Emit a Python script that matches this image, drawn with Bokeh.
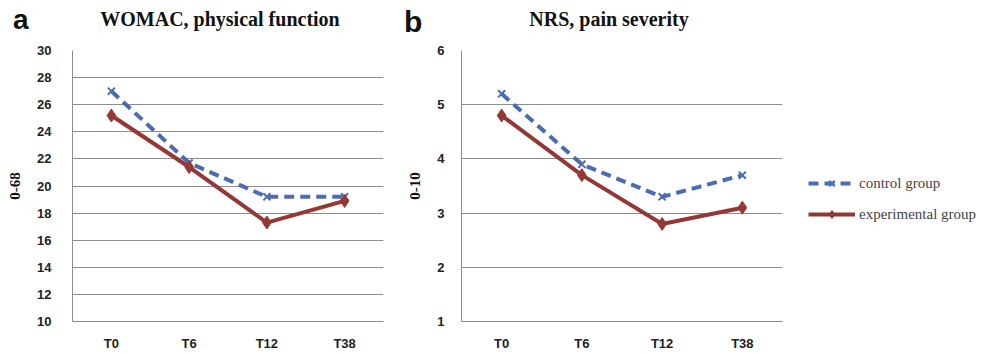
from bokeh.plotting import figure
from bokeh.models import Range1d, FactorRange, Legend, LegendItem, FixedTicker, Div
from bokeh.layouts import row, column
from bokeh.embed import file_html
from bokeh.resources import INLINE

timepoints = ["T0", "T6", "T12", "T38"]
womac_control = [27.0, 21.7, 19.2, 19.2]
womac_experimental = [25.2, 21.4, 17.3, 18.9]
nrs_control = [5.2, 3.9, 3.3, 3.7]
nrs_experimental = [4.8, 3.7, 2.8, 3.1]
womac_ticks = [10, 12, 14, 16, 18, 20, 22, 24, 26, 28, 30]
nrs_ticks = [1, 2, 3, 4, 5, 6]

BLUE = "#4a6cb3"
RED = "#953735"
GRID = "#8c8c8c"
SERIF = "Times New Roman"
SANS = "Liberation Sans"


def panel(ylabel, ticks, control, experimental, frame_w,
          border_left, border_right, tick_standoff):
    p = figure(x_range=FactorRange(*timepoints, range_padding=0),
               y_range=Range1d(ticks[0], ticks[-1]),
               frame_width=frame_w, frame_height=271,
               min_border_left=border_left, min_border_right=border_right,
               min_border_top=8, min_border_bottom=30,
               output_backend="svg", toolbar_location=None)
    p.outline_line_color = None
    p.xgrid.grid_line_color = None
    p.ygrid.grid_line_color = GRID
    p.ygrid.grid_line_width = 1
    p.yaxis.ticker = FixedTicker(ticks=ticks)
    for ax in (p.xaxis, p.yaxis):
        ax.axis_line_color = GRID
        ax.major_tick_line_color = None
        ax.minor_tick_line_color = None
        ax.major_label_text_font = SANS
        ax.major_label_text_font_style = "bold"
        ax.major_label_text_font_size = "13px"
        ax.major_label_text_color = "#222222"
    p.yaxis.major_label_standoff = tick_standoff
    p.xaxis.major_label_standoff = 8
    p.yaxis.axis_label = ylabel
    p.yaxis.axis_label_text_font = SERIF
    p.yaxis.axis_label_text_font_style = "bold"
    p.yaxis.axis_label_text_font_size = "15px"
    p.yaxis.axis_label_standoff = 14
    p.yaxis.axis_label_text_color = "#111111"

    cl = p.line(timepoints, control, line_color=BLUE, line_width=4, line_dash="10 6")
    cs = p.scatter(timepoints, control, marker="x", size=10, line_color=BLUE, line_width=2)
    el = p.line(timepoints, experimental, line_color=RED, line_width=4)
    es = p.scatter(timepoints, experimental, marker="diamond", size=13,
                   fill_color=RED, line_color=RED)
    return p, (cl, cs), (el, es)


pa, _, _ = panel("0-68", womac_ticks, womac_control, womac_experimental,
                 311, 72, 17, 15)
pb, crs, ers = panel("0-10", nrs_ticks, nrs_control, nrs_experimental,
                     321, 61, 203, 11)

legend = Legend(items=[LegendItem(label="control group", renderers=list(crs)),
                       LegendItem(label="experimental group", renderers=list(ers))],
                location=(26, 97), label_text_font=SERIF,
                label_text_font_size="15px", glyph_width=47, glyph_height=20,
                spacing=11, border_line_color=None, background_fill_alpha=0,
                padding=0, margin=0, label_standoff=4)
pb.add_layout(legend, "right")


def letter_span(text, left, top, size):
    return (f'<span style="position:absolute;left:{left}px;top:{top}px;'
            f"font-family:'Liberation Sans',Arial,sans-serif;font-weight:bold;"
            f'font-size:{size}px;line-height:{size}px;color:#111;">{text}</span>')


def title_span(text, center, top):
    return (f'<span style="position:absolute;left:{center - 250}px;top:{top}px;'
            f'width:500px;text-align:center;white-space:nowrap;'
            f"font-family:'Liberation Serif','Times New Roman',serif;font-weight:bold;"
            f'font-size:20px;line-height:20px;color:#111;">{text}</span>')


header_html = ('<div style="position:relative;width:985px;height:42px;">'
               + letter_span("a", 13, 6, 28)
               + title_span("WOMAC, physical function", 220, 9)
               + letter_span("b", 404, 7, 30)
               + title_span("NRS, pain severity", 609, 9)
               + '</div>')
header = Div(text=header_html, width=985, height=42, margin=0)

layout = column(header, row(pa, pb))
open("out.html", "w").write(file_html(layout, INLINE))
